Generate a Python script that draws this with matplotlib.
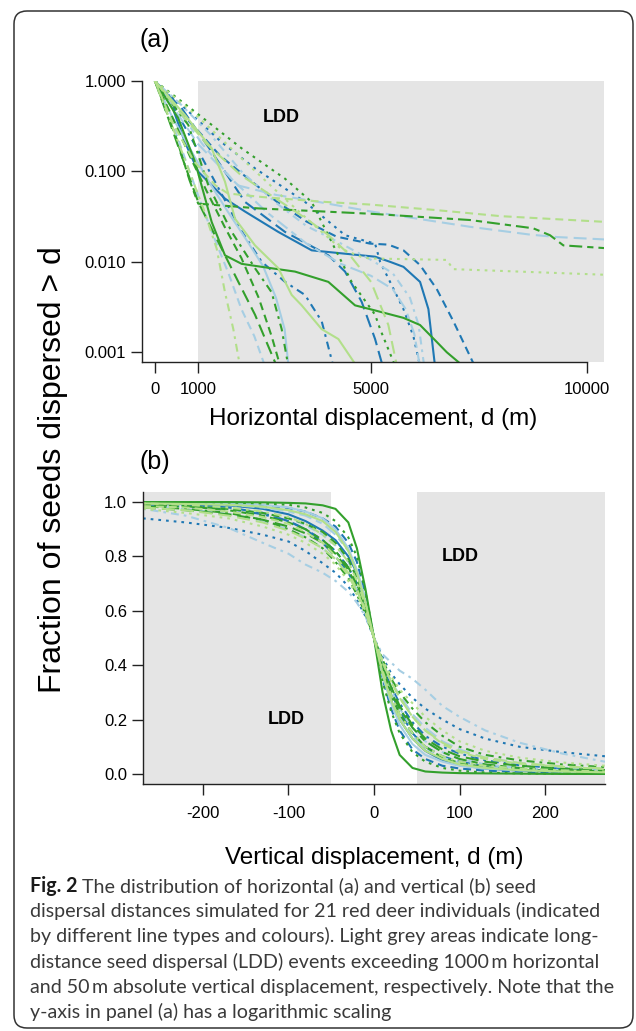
import matplotlib
matplotlib.use("Agg")
import matplotlib.pyplot as plt
from matplotlib.patches import FancyBboxPatch
from matplotlib.ticker import NullLocator
from matplotlib.transforms import IdentityTransform

plt.rcParams["font.family"] = ["Liberation Sans", "DejaVu Sans"]
plt.rcParams["axes.unicode_minus"] = False

# 21 red deer individuals: colour and R-style line type
indiv_colour = ["dblue"] * 5 + ["lblue"] * 5 + ["dgreen"] * 6 + ["lgreen"] * 5
indiv_lty = ["solid", "dashed", "dotted", "dotdash", "longdash",
             "solid", "dashed", "dotdash", "longdash", "twodash",
             "solid", "dashed", "dotted", "dotdash", "longdash", "twodash",
             "solid", "dashed", "dotted", "dotdash", "longdash"]

# panel (a): horizontal displacement (m) and fraction dispersed > d
horiz_d = [
    [0, 386, 694, 1003, 1620, 2083, 2855, 3627, 4398, 5093, 5440, 5750, 6134, 6327, 6480],
    [0, 500, 1000, 1500, 2200, 2800, 3500, 4200, 4977, 5400, 5750, 6134, 6520, 6905, 7400],
    [0, 600, 1543, 2315, 3472, 4398, 5093, 5210, 5440, 5750, 5980, 6134],
    [0, 500, 1000, 1600, 2000, 2470, 3010, 3472, 3858, 4127],
    [0, 617, 1312, 2083, 3010, 4012, 4398, 4784, 5093, 5270],
    [0, 400, 900, 1300, 1700, 2100, 2500, 2800, 3000, 3090],
    [0, 400, 800, 1100, 1400, 1700, 2000, 2300, 2546],
    [0, 600, 1300, 2000, 2800, 3500, 4300, 5000, 5500, 5900, 6100, 6230],
    [0, 500, 1000, 1920, 2800, 3780, 5000, 7290, 8680, 9300, 10390],
    [0, 500, 1100, 1800, 2600, 3500, 4300, 5000, 5500, 5800, 6000, 6130],
    [0, 540, 926, 1312, 1620, 2006, 2470, 3240, 4012, 4630, 5093, 5750, 6134, 6520, 6752, 7137],
    [0, 400, 800, 1200, 1600, 2000, 2400, 2700, 2900],
    [0, 925, 2005, 3010, 3625, 4090, 4550, 5093, 5210, 5560],
    [0, 772, 1235, 1775, 2315, 2700, 2932, 3086],
    [0, 309, 694, 1000, 1543, 1929, 2315, 2817],
    [0, 500, 800, 1000, 2390, 5000, 7290, 8750, 9140, 9450, 10390],
    [0, 694, 1312, 1620, 1852, 2315, 2855, 3164, 3395, 3858, 4244, 4668],
    [0, 400, 900, 1400, 1690, 2500, 3935, 4977, 6520, 8000, 10390],
    [0, 1000, 2000, 3000, 3700, 4300, 4800, 4977, 6750, 6900, 10390],
    [0, 540, 1119, 1428, 1620, 1813, 1968],
    [0, 500, 1200, 2000, 2800, 3500, 4000, 4500, 5000, 5400, 5600],
]
horiz_frac = [
    [1, 0.54, 0.21, 0.099, 0.05, 0.036, 0.0214, 0.0134, 0.0123, 0.0114, 0.010, 0.0088, 0.006, 0.003, 0.0007],
    [1, 0.5, 0.28, 0.15, 0.08, 0.047, 0.028, 0.019, 0.0159, 0.0155, 0.0134, 0.0092, 0.005, 0.0022, 0.0007],
    [1, 0.55, 0.21, 0.108, 0.046, 0.0197, 0.0159, 0.01, 0.006, 0.003, 0.0015, 0.0007],
    [1, 0.45, 0.17, 0.05, 0.022, 0.01, 0.006, 0.0043, 0.0022, 0.0007],
    [1, 0.5, 0.165, 0.046, 0.0214, 0.0118, 0.0078, 0.0036, 0.0014, 0.0007],
    [1, 0.4, 0.15, 0.07, 0.035, 0.018, 0.009, 0.004, 0.0018, 0.0007],
    [1, 0.35, 0.1, 0.04, 0.017, 0.0075, 0.003, 0.0015, 0.0007],
    [1, 0.55, 0.25, 0.1, 0.045, 0.025, 0.016, 0.0105, 0.0075, 0.004, 0.002, 0.0007],
    [1, 0.45, 0.2, 0.07, 0.055, 0.046, 0.036, 0.0244, 0.020, 0.0188, 0.0177],
    [1, 0.5, 0.2, 0.08, 0.035, 0.016, 0.0095, 0.007, 0.005, 0.003, 0.0016, 0.0007],
    [1, 0.386, 0.128, 0.0276, 0.0118, 0.0095, 0.0088, 0.0078, 0.006, 0.0033, 0.0029, 0.0024, 0.002, 0.0013, 0.001, 0.0007],
    [1, 0.4, 0.15, 0.06, 0.025, 0.011, 0.004, 0.0015, 0.0007],
    [1, 0.457, 0.18, 0.083, 0.046, 0.0165, 0.006, 0.0026, 0.0018, 0.0007],
    [1, 0.326, 0.07, 0.0215, 0.0085, 0.0046, 0.0018, 0.0007],
    [1, 0.386, 0.117, 0.046, 0.014, 0.006, 0.0026, 0.0007],
    [1, 0.23, 0.08, 0.044, 0.039, 0.034, 0.029, 0.0235, 0.0197, 0.0152, 0.0142],
    [1, 0.42, 0.18, 0.077, 0.030, 0.0152, 0.0085, 0.0043, 0.0033, 0.0018, 0.0014, 0.0007],
    [1, 0.35, 0.13, 0.07, 0.057, 0.052, 0.046, 0.043, 0.0373, 0.032, 0.0277],
    [1, 0.4, 0.14, 0.05, 0.025, 0.014, 0.0112, 0.0109, 0.0105, 0.0083, 0.0072],
    [1, 0.21, 0.039, 0.014, 0.0046, 0.0018, 0.0007],
    [1, 0.5, 0.2, 0.09, 0.05, 0.03, 0.02, 0.012, 0.006, 0.002, 0.0007],
]

# panel (b): vertical displacement (m) and fraction dispersed > d
vert_d = [-270, -220, -170, -130, -100, -80, -60, -45, -30, -20, -10, 0,
          10, 20, 30, 45, 60, 80, 100, 130, 170, 220, 270]
vert_frac = [
    [0.995, 0.993, 0.988, 0.975, 0.955, 0.93, 0.895, 0.86, 0.8, 0.74, 0.64, 0.5, 0.37, 0.27, 0.2, 0.13, 0.085, 0.05, 0.032, 0.02, 0.012, 0.008, 0.006],
    [0.995, 0.995, 0.993, 0.988, 0.978, 0.965, 0.94, 0.91, 0.85, 0.78, 0.66, 0.5, 0.35, 0.24, 0.16, 0.09, 0.055, 0.03, 0.02, 0.012, 0.008, 0.005, 0.004],
    [0.94, 0.925, 0.905, 0.88, 0.855, 0.82, 0.775, 0.74, 0.69, 0.64, 0.58, 0.5, 0.43, 0.37, 0.33, 0.28, 0.24, 0.2, 0.165, 0.13, 0.1, 0.08, 0.065],
    [0.99, 0.985, 0.975, 0.955, 0.93, 0.9, 0.86, 0.82, 0.76, 0.7, 0.61, 0.5, 0.4, 0.32, 0.26, 0.19, 0.14, 0.1, 0.075, 0.05, 0.032, 0.02, 0.013],
    [0.995, 0.99, 0.98, 0.96, 0.93, 0.9, 0.85, 0.8, 0.74, 0.68, 0.6, 0.5, 0.39, 0.3, 0.23, 0.15, 0.1, 0.065, 0.045, 0.028, 0.017, 0.011, 0.008],
    [0.998, 0.997, 0.995, 0.99, 0.98, 0.965, 0.94, 0.9, 0.83, 0.75, 0.64, 0.5, 0.36, 0.26, 0.18, 0.11, 0.07, 0.045, 0.03, 0.02, 0.013, 0.009, 0.006],
    [0.99, 0.985, 0.975, 0.96, 0.94, 0.915, 0.88, 0.84, 0.78, 0.72, 0.62, 0.5, 0.4, 0.31, 0.24, 0.17, 0.12, 0.08, 0.055, 0.035, 0.022, 0.014, 0.01],
    [0.975, 0.95, 0.905, 0.85, 0.81, 0.77, 0.74, 0.71, 0.67, 0.63, 0.58, 0.5, 0.44, 0.41, 0.38, 0.35, 0.31, 0.25, 0.21, 0.16, 0.115, 0.075, 0.045],
    [0.985, 0.975, 0.955, 0.93, 0.9, 0.87, 0.83, 0.79, 0.73, 0.68, 0.6, 0.5, 0.41, 0.34, 0.29, 0.22, 0.17, 0.12, 0.09, 0.06, 0.04, 0.025, 0.017],
    [0.997, 0.995, 0.99, 0.98, 0.965, 0.95, 0.92, 0.88, 0.82, 0.75, 0.64, 0.5, 0.37, 0.28, 0.21, 0.14, 0.095, 0.06, 0.04, 0.025, 0.015, 0.01, 0.007],
    [1.0, 1.0, 1.0, 0.999, 0.997, 0.995, 0.988, 0.975, 0.925, 0.83, 0.68, 0.5, 0.3, 0.16, 0.07, 0.022, 0.009, 0.005, 0.003, 0.002, 0.001, 0.0, 0.0],
    [0.99, 0.985, 0.975, 0.96, 0.94, 0.92, 0.89, 0.85, 0.79, 0.72, 0.62, 0.5, 0.38, 0.29, 0.22, 0.15, 0.1, 0.06, 0.04, 0.025, 0.015, 0.009, 0.006],
    [1.0, 1.0, 0.998, 0.995, 0.99, 0.98, 0.96, 0.93, 0.87, 0.8, 0.67, 0.5, 0.34, 0.23, 0.15, 0.08, 0.045, 0.022, 0.012, 0.005, 0.002, 0.001, 0.0],
    [0.985, 0.975, 0.96, 0.935, 0.9, 0.87, 0.83, 0.78, 0.72, 0.66, 0.59, 0.5, 0.42, 0.35, 0.3, 0.24, 0.19, 0.14, 0.1, 0.07, 0.05, 0.035, 0.025],
    [0.98, 0.97, 0.955, 0.935, 0.91, 0.885, 0.85, 0.81, 0.75, 0.69, 0.6, 0.5, 0.4, 0.32, 0.25, 0.18, 0.13, 0.09, 0.065, 0.045, 0.03, 0.02, 0.014],
    [0.99, 0.985, 0.97, 0.95, 0.925, 0.9, 0.86, 0.82, 0.76, 0.7, 0.61, 0.5, 0.39, 0.3, 0.24, 0.17, 0.12, 0.08, 0.055, 0.035, 0.022, 0.014, 0.01],
    [0.995, 0.993, 0.99, 0.983, 0.97, 0.955, 0.93, 0.89, 0.82, 0.74, 0.63, 0.5, 0.37, 0.27, 0.2, 0.13, 0.085, 0.055, 0.035, 0.022, 0.014, 0.009, 0.006],
    [0.985, 0.98, 0.965, 0.945, 0.92, 0.89, 0.85, 0.8, 0.74, 0.68, 0.6, 0.5, 0.41, 0.34, 0.28, 0.21, 0.16, 0.11, 0.08, 0.055, 0.038, 0.026, 0.018],
    [0.975, 0.96, 0.94, 0.91, 0.88, 0.85, 0.81, 0.77, 0.71, 0.66, 0.59, 0.5, 0.42, 0.36, 0.31, 0.26, 0.21, 0.16, 0.12, 0.085, 0.06, 0.042, 0.03],
    [0.995, 0.99, 0.98, 0.965, 0.945, 0.92, 0.88, 0.84, 0.78, 0.71, 0.62, 0.5, 0.38, 0.29, 0.22, 0.15, 0.1, 0.065, 0.045, 0.03, 0.02, 0.013, 0.009],
    [0.98, 0.97, 0.95, 0.925, 0.895, 0.865, 0.83, 0.79, 0.73, 0.67, 0.6, 0.5, 0.41, 0.34, 0.28, 0.21, 0.16, 0.115, 0.085, 0.06, 0.04, 0.028, 0.02],
]

horiz_ticks = [0, 1000, 5000, 10000]
horiz_logticks = [0.001, 0.01, 0.1, 1.0]
horiz_loglabels = ["0.001", "0.010", "0.100", "1.000"]
vert_ticks = [-200, -100, 0, 100, 200]
vert_yticks = [0.0, 0.2, 0.4, 0.6, 0.8, 1.0]

caption_lines = [
    "The distribution of horizontal (a) and vertical (b) seed",
    "dispersal distances simulated for 21 red deer individuals (indicated",
    "by different line types and colours). Light grey areas indicate long-",
    "distance seed dispersal (LDD) events exceeding 1000\u2009m horizontal",
    "and 50\u2009m absolute vertical displacement, respectively. Note that the",
    "y-axis in panel (a) has a logarithmic scaling",
]

colours = {"dblue": "#1f78b4", "lblue": "#a6cee3", "dgreen": "#33a02c", "lgreen": "#b2df8a"}
line_types = {
    "solid": "-",
    "dashed": (0, (3.8, 2.4)),
    "dotted": (0, (1.3, 2.4)),
    "dotdash": (0, (1.3, 2.4, 3.8, 2.4)),
    "longdash": (0, (6.2, 2.9)),
    "twodash": (0, (3, 2.4, 6.2, 2.4)),
}
LDD_GREY = "#e5e5e5"

W, H = 636, 1031
fig = plt.figure(figsize=(W / 100, H / 100), dpi=100)


def px_axes(left, top, right, bottom):
    return fig.add_axes([left / W, 1 - bottom / H, (right - left) / W, (bottom - top) / H])


def fxy(px, py):
    return px / W, 1 - py / H


def style_axes(ax):
    for side in ["top", "right"]:
        ax.spines[side].set_visible(False)
    for side in ["left", "bottom"]:
        ax.spines[side].set_linewidth(1.0)
        ax.spines[side].set_color("#222222")
    ax.tick_params(direction="out", length=8, width=1.0, color="#222222", labelsize=12)
    ax.tick_params(axis="y", pad=3.5)


# ---- panel (a)
ax_a = px_axes(142, 81, 604, 362)
ax_a.axvspan(1000, 10390, color=LDD_GREY, lw=0, zorder=0)
for i in range(len(horiz_d)):
    ax_a.plot(horiz_d[i], horiz_frac[i], color=colours[indiv_colour[i]],
              linestyle=line_types[indiv_lty[i]], lw=1.5, zorder=2)
ax_a.set_yscale("log")
ax_a.set_xlim(-300, 10390)
ax_a.set_ylim(0.00078, 1.0)
ax_a.set_yticks(horiz_logticks)
ax_a.set_yticklabels(horiz_loglabels)
ax_a.yaxis.set_minor_locator(NullLocator())
ax_a.set_xticks(horiz_ticks)
style_axes(ax_a)
ax_a.tick_params(axis="x", pad=6.5)
ax_a.spines["bottom"].set_bounds(-300, 10000)
ax_a.text(2917, 0.39, "LDD", ha="center", va="center", fontsize=13, fontweight="bold")

# ---- panel (b)
ax_b = px_axes(143, 492, 605, 784)
ax_b.axvspan(-270, -50, color=LDD_GREY, lw=0, zorder=0)
ax_b.axvspan(50, 270, color=LDD_GREY, lw=0, zorder=0)
for i in range(len(vert_frac)):
    ax_b.plot(vert_d, vert_frac[i], color=colours[indiv_colour[i]],
              linestyle=line_types[indiv_lty[i]], lw=1.5, zorder=2)
ax_b.set_xlim(-270, 270)
ax_b.set_ylim(-0.037, 1.037)
ax_b.set_xticks(vert_ticks)
ax_b.set_yticks(vert_yticks)
ax_b.set_yticklabels([f"{v:.1f}" for v in vert_yticks])
style_axes(ax_b)
ax_b.tick_params(axis="x", pad=8)
ax_b.text(101, 0.80, "LDD", ha="center", va="center", fontsize=13, fontweight="bold")
ax_b.text(-102, 0.20, "LDD", ha="center", va="center", fontsize=13, fontweight="bold")

# ---- labels
fig.text(*fxy(155, 40), "(a)", ha="center", va="center", fontsize=18)
fig.text(*fxy(155, 462), "(b)", ha="center", va="center", fontsize=18)
fig.text(*fxy(373, 419), "Horizontal displacement, d (m)", ha="center", va="center", fontsize=17.5)
fig.text(*fxy(374, 858), "Vertical displacement, d (m)", ha="center", va="center", fontsize=17.5)
fig.text(*fxy(53, 470), "Fraction of seeds dispersed > d", rotation=90,
         ha="center", va="center", fontsize=23)

# ---- caption, sized so the longest line fills the frame like the original
cap_font = ["Lato", "DejaVu Sans"]
renderer = fig.canvas.get_renderer()
probe = fig.text(0, 0, caption_lines[1], fontsize=12, family=cap_font)
cap_size = 12 * 568 / probe.get_window_extent(renderer).width
probe.remove()

cap_x, cap_y0, cap_step = 30, 892, 25.2
bold = fig.text(*fxy(cap_x, cap_y0), "Fig. 2", fontsize=cap_size, family=cap_font,
                fontweight="bold", color="#1a1a1a", va="baseline")
bw = bold.get_window_extent(renderer).width
for k, line in enumerate(caption_lines):
    x0 = cap_x + (bw + cap_size * 0.3) if k == 0 else cap_x
    fig.text(*fxy(x0, cap_y0 + k * cap_step), line, fontsize=cap_size, family=cap_font,
             color="#3a3a3a", va="baseline")

# ---- rounded frame around the figure
frame = FancyBboxPatch((14, 3), 619, 1017, boxstyle="round,pad=0,rounding_size=13",
                       transform=IdentityTransform(), fill=False, ec="#333333", lw=1.1)
fig.add_artist(frame)

fig.savefig("out.png", dpi=100)
